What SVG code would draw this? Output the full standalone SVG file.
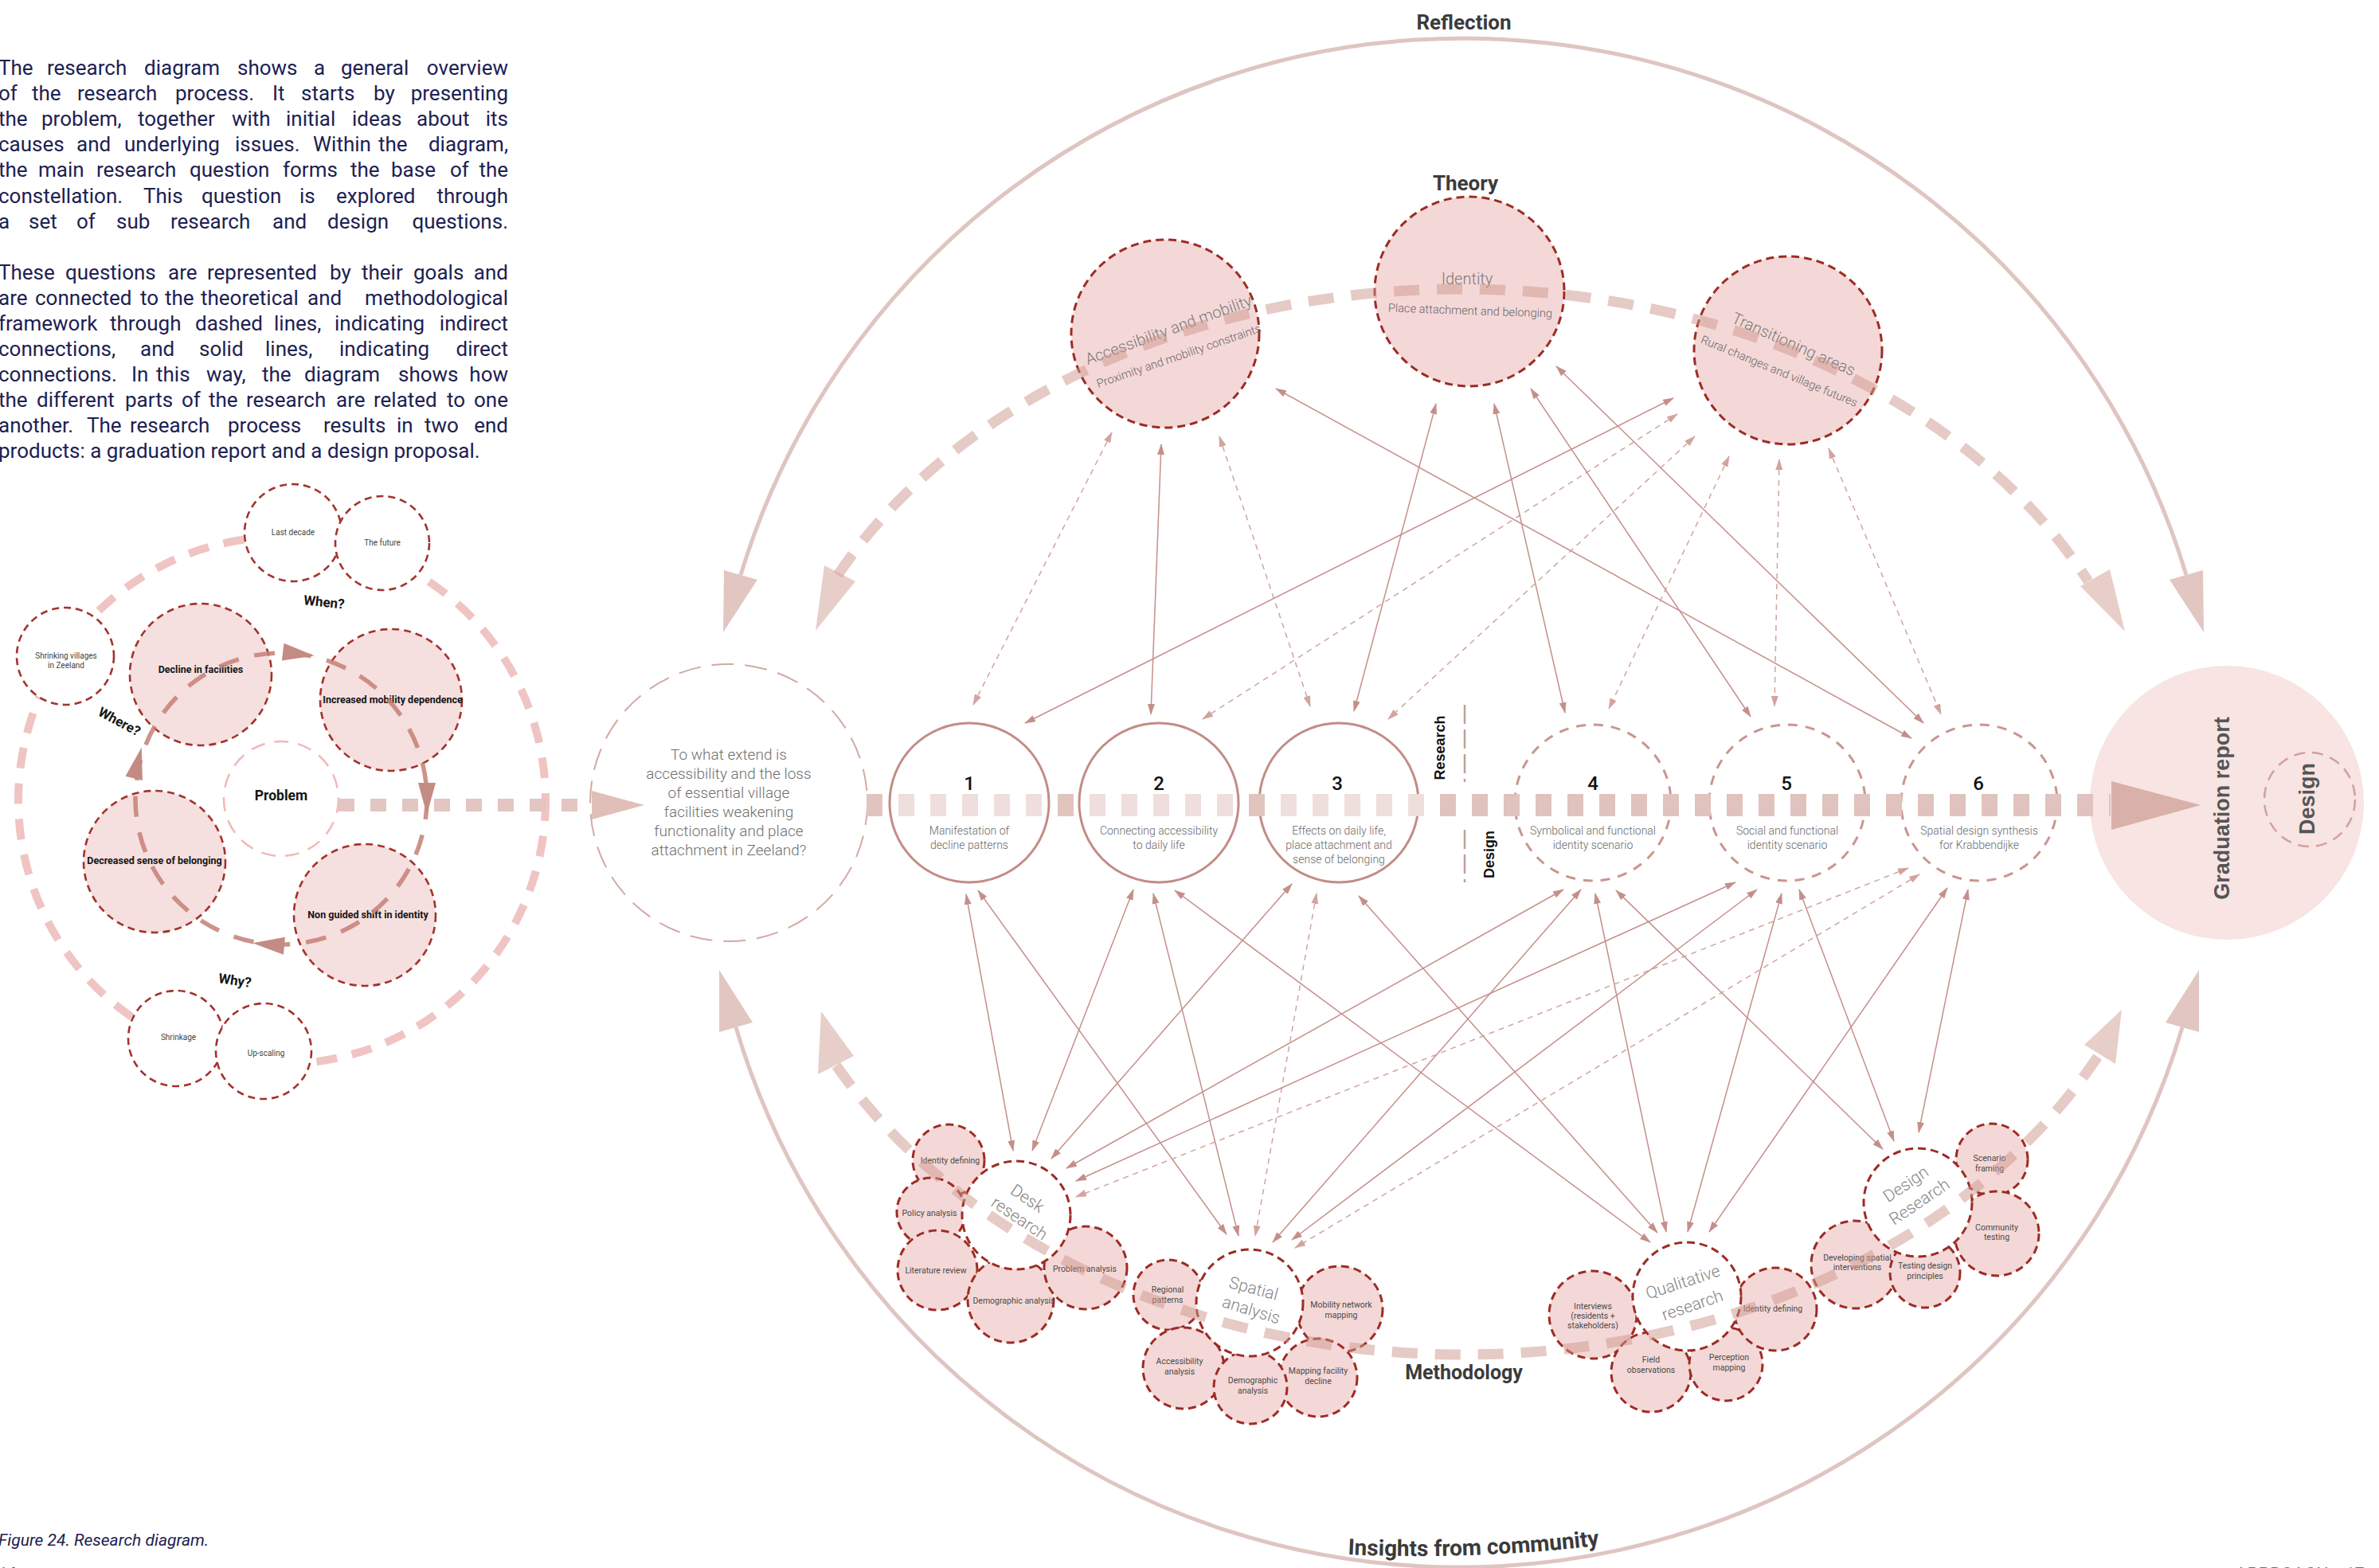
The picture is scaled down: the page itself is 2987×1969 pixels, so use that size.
<svg xmlns="http://www.w3.org/2000/svg" width="2987" height="1969" viewBox="0 0 2987 1969">
<defs>
<style>
.body{font-family:Roboto,"Liberation Sans",sans-serif;font-size:26px;fill:#1d2152}
.cap{font-family:Roboto,"Liberation Sans",sans-serif;font-size:21px;font-style:italic;fill:#1d2152}
.head{font-family:Roboto,"Liberation Sans",sans-serif;font-weight:700;fill:#3b3b3b;text-anchor:middle}
.pk{fill:#f4d8d7;stroke:#9d2c25;stroke-width:3;stroke-dasharray:10 6}
.wc{fill:#fff;stroke:#9d2c25;stroke-width:3;stroke-dasharray:10 6}
.lp{fill:#f6dfdf;stroke:#a3332c;stroke-width:2.6;stroke-dasharray:9 6}
.lw{fill:#fff;stroke:#a3332c;stroke-width:2.6;stroke-dasharray:9 6}
.lbl{font-family:Roboto,sans-serif;font-size:10.5px;fill:#4a4a4a;text-anchor:middle}
.slbl{font-family:Roboto,sans-serif;font-size:10px;fill:#444;text-anchor:middle}
.plbl{font-family:Roboto,sans-serif;font-weight:700;font-size:12.5px;fill:#151515;text-anchor:middle}
.why{font-family:Roboto,sans-serif;font-weight:700;font-size:17px;fill:#151515;text-anchor:middle}
.q{font-family:Roboto,sans-serif;font-weight:300;font-size:19px;fill:#6f6f6f;text-anchor:middle}
.sq{font-family:Roboto,sans-serif;font-weight:300;font-size:14px;fill:#6a6a6a;text-anchor:middle}
.num{font-family:Roboto,sans-serif;font-weight:500;font-size:24px;fill:#111;text-anchor:middle}
.tb{font-family:Roboto,sans-serif;font-weight:300;font-size:20px;fill:#7a7a7a;text-anchor:middle;dominant-baseline:central}
.ts{font-family:Roboto,sans-serif;font-weight:300;font-size:14.6px;fill:#666;text-anchor:middle;dominant-baseline:central}
.mb{font-family:Roboto,sans-serif;font-weight:300;font-size:21px;fill:#858585;text-anchor:middle;dominant-baseline:central}
.ax{font-family:"Liberation Sans",Arial,sans-serif;font-weight:700;fill:#111;text-anchor:middle;dominant-baseline:central}
.sn{fill:none;stroke:#c28c86;stroke-width:3}
.dn{fill:none;stroke:#c9968f;stroke-width:3;stroke-dasharray:12 10}
.sl{stroke:#c58f89;stroke-width:1.5;fill:none;marker-start:url(#ah);marker-end:url(#ah)}
.dl{stroke:#d1a49e;stroke-width:1.5;fill:none;stroke-dasharray:7 6;marker-start:url(#ahd);marker-end:url(#ahd)}
.big{fill:none;stroke:#dfc5c1;stroke-width:5}
.bigh{fill:#e2c6c2}
.thk{fill:none;stroke:rgba(205,150,140,0.5);stroke-width:13;stroke-dasharray:32 22}
.thkh{fill:rgba(212,165,156,0.55)}
</style>
<marker id="ah" viewBox="0 0 14 9" refX="13" refY="4.5" markerWidth="14" markerHeight="9" markerUnits="userSpaceOnUse" orient="auto-start-reverse"><path d="M0,0 L14,4.5 L0,9 z" fill="#c58f89"/></marker>
<marker id="ahd" viewBox="0 0 14 9" refX="13" refY="4.5" markerWidth="14" markerHeight="9" markerUnits="userSpaceOnUse" orient="auto-start-reverse"><path d="M0,0 L14,4.5 L0,9 z" fill="#d1a49e"/></marker>
<path id="insightsPath" d="M 1640 1949 Q 1850 1964 2060 1934"/>
</defs>

<rect width="2987" height="1969" fill="#fff"/>

<!-- introduction text -->
<g id="intro">
<text class="body" y="94"><tspan x="-2">The</tspan><tspan x="59">research</tspan><tspan x="181">diagram</tspan><tspan x="298">shows</tspan><tspan x="394">a</tspan><tspan x="428">general</tspan><tspan x="638" text-anchor="end">overview</tspan></text>
<text class="body" y="126"><tspan x="-2">of</tspan><tspan x="40">the</tspan><tspan x="97">research</tspan><tspan x="220">process.</tspan><tspan x="342">It</tspan><tspan x="378">starts</tspan><tspan x="469">by</tspan><tspan x="638" text-anchor="end">presenting</tspan></text>
<text class="body" y="158"><tspan x="-2">the</tspan><tspan x="52">problem,</tspan><tspan x="173">together</tspan><tspan x="291">with</tspan><tspan x="359">initial</tspan><tspan x="442">ideas</tspan><tspan x="523">about</tspan><tspan x="638" text-anchor="end">its</tspan></text>
<text class="body" y="190"><tspan x="-2">causes</tspan><tspan x="96">and</tspan><tspan x="156">underlying</tspan><tspan x="295">issues.</tspan><tspan x="393">Within</tspan><tspan x="475">the</tspan><tspan x="638" text-anchor="end">diagram,</tspan></text>
<text class="body" y="222"><tspan x="-2">the</tspan><tspan x="48">main</tspan><tspan x="121">research</tspan><tspan x="238">question</tspan><tspan x="355">forms</tspan><tspan x="440">the</tspan><tspan x="491">base</tspan><tspan x="565">of</tspan><tspan x="638" text-anchor="end">the</tspan></text>
<text class="body" y="255"><tspan x="-2">constellation.</tspan><tspan x="180">This</tspan><tspan x="253">question</tspan><tspan x="376">is</tspan><tspan x="422">explored</tspan><tspan x="638" text-anchor="end">through</tspan></text>
<text class="body" y="287"><tspan x="-2">a</tspan><tspan x="36">set</tspan><tspan x="96">of</tspan><tspan x="146">sub</tspan><tspan x="214">research</tspan><tspan x="342">and</tspan><tspan x="411">design</tspan><tspan x="638" text-anchor="end">questions.</tspan></text>
<text class="body" y="351"><tspan x="-2">These</tspan><tspan x="82">questions</tspan><tspan x="211">are</tspan><tspan x="260">represented</tspan><tspan x="414">by</tspan><tspan x="454">their</tspan><tspan x="519">goals</tspan><tspan x="638" text-anchor="end">and</tspan></text>
<text class="body" y="383"><tspan x="-2">are</tspan><tspan x="44">connected</tspan><tspan x="176">to</tspan><tspan x="207">the</tspan><tspan x="252">theoretical</tspan><tspan x="386">and</tspan><tspan x="638" text-anchor="end">methodological</tspan></text>
<text class="body" y="415"><tspan x="-2">framework</tspan><tspan x="138">through</tspan><tspan x="245">dashed</tspan><tspan x="344">lines,</tspan><tspan x="420">indicating</tspan><tspan x="638" text-anchor="end">indirect</tspan></text>
<text class="body" y="447"><tspan x="-2">connections,</tspan><tspan x="176">and</tspan><tspan x="250">solid</tspan><tspan x="333">lines,</tspan><tspan x="426">indicating</tspan><tspan x="638" text-anchor="end">direct</tspan></text>
<text class="body" y="479"><tspan x="-2">connections.</tspan><tspan x="165">In</tspan><tspan x="196">this</tspan><tspan x="259">way,</tspan><tspan x="329">the</tspan><tspan x="382">diagram</tspan><tspan x="500">shows</tspan><tspan x="638" text-anchor="end">how</tspan></text>
<text class="body" y="511"><tspan x="-2">the</tspan><tspan x="46">different</tspan><tspan x="157">parts</tspan><tspan x="228">of</tspan><tspan x="262">the</tspan><tspan x="309">research</tspan><tspan x="422">are</tspan><tspan x="469">related</tspan><tspan x="561">to</tspan><tspan x="638" text-anchor="end">one</tspan></text>
<text class="body" y="543"><tspan x="-2">another.</tspan><tspan x="109">The</tspan><tspan x="163">research</tspan><tspan x="286">process</tspan><tspan x="406">results</tspan><tspan x="498">in</tspan><tspan x="533">two</tspan><tspan x="638" text-anchor="end">end</tspan></text>
<text class="body" x="-2" y="575">products: a graduation report and a design proposal.</text>
</g>

<!-- page furniture -->
<g id="page">
<text class="cap" x="-2" y="1941">Figure 24. Research diagram.</text>
<text x="-2" y="1983" font-family="Roboto,sans-serif" font-size="21" fill="#3a3d66">16</text>
<text x="2807" y="1983" font-family="Roboto,sans-serif" font-size="21" fill="#6b6b78" letter-spacing="1">APPROACH</text>
<text x="2945" y="1983" font-family="Roboto,sans-serif" font-size="21" fill="#6b6b78">17</text>
</g>

<!-- problem field boundary -->
<g id="problem-field">
<circle cx="354" cy="1005" r="331" fill="none" stroke="#f0c4c3" stroke-width="10" stroke-dasharray="26 19"/>
</g>

<!-- problem cluster -->
<g id="problem"><circle cx="353" cy="1003" r="72" fill="#fff" stroke="#f1b9b8" stroke-width="2.5" stroke-dasharray="18 12"/><text class="why" x="353" y="1005" style="font-size:17.5px">Problem</text></g>
<g id="last-decade"><circle class="lw" cx="368" cy="669" r="61"/><text class="slbl" x="368" y="672">Last decade</text></g>
<g id="the-future"><circle class="lw" cx="480" cy="682" r="59"/><text class="slbl" x="480" y="685">The future</text></g>
<g id="shrinking-villages"><circle class="lw" cx="82" cy="824" r="61"/><text class="slbl" x="83" y="827">Shrinking villages</text><text class="slbl" x="83" y="839">in Zeeland</text></g>
<g id="shrinkage"><circle class="lw" cx="221" cy="1304" r="60"/><text class="slbl" x="224" y="1306">Shrinkage</text></g>
<g id="up-scaling"><circle class="lw" cx="331" cy="1320" r="60"/><text class="slbl" x="334" y="1326">Up-scaling</text></g>
<g id="decline-facilities"><circle class="lp" cx="252" cy="847" r="89"/><text class="plbl" x="252" y="845">Decline in facilities</text></g>
<g id="mobility-dependence"><circle class="lp" cx="491" cy="879" r="89"/><text class="plbl" x="493" y="883">Increased mobility dependence</text></g>
<g id="sense-belonging"><circle class="lp" cx="194" cy="1082" r="89"/><text class="plbl" x="194" y="1085">Decreased sense of belonging</text></g>
<g id="identity-shift"><circle class="lp" cx="458" cy="1149" r="89"/><text class="plbl" x="462" y="1153">Non guided shift in identity</text></g>
<g id="problem-questions">
<text class="why" x="407" y="762" transform="rotate(6 407 756)">When?</text>
<text class="why" x="150" y="912" transform="rotate(28 150 906)">Where?</text>
<text class="why" x="295" y="1237" transform="rotate(8 295 1231)">Why?</text>
</g>

<!-- main research question -->
<g id="main-question">
<circle cx="915" cy="1008" r="174" fill="#fff" stroke="#d3aaa4" stroke-width="2" stroke-dasharray="28 14"/>
<text class="q" x="915" y="954">To what extend is</text>
<text class="q" x="915" y="978">accessibility and the loss</text>
<text class="q" x="915" y="1002">of essential village</text>
<text class="q" x="915" y="1026">facilities weakening</text>
<text class="q" x="915" y="1050">functionality and place</text>
<text class="q" x="915" y="1074">attachment in Zeeland?</text>
</g>

<!-- sub questions -->
<g id="sq1"><circle class="sn" cx="1217" cy="1008" r="100"/><text class="num" x="1217" y="992">1</text><text class="sq" x="1217" y="1048">Manifestation of</text><text class="sq" x="1217" y="1066">decline patterns</text></g>
<g id="sq2"><circle class="sn" cx="1455" cy="1008" r="100"/><text class="num" x="1455" y="992">2</text><text class="sq" x="1455" y="1048">Connecting accessibility</text><text class="sq" x="1455" y="1066">to daily life</text></g>
<g id="sq3"><circle class="sn" cx="1681" cy="1008" r="100"/><text class="num" x="1679" y="992">3</text><text class="sq" x="1681" y="1048">Effects on daily life,</text><text class="sq" x="1681" y="1066">place attachment and</text><text class="sq" x="1681" y="1084">sense of belonging</text></g>
<g id="sq4"><circle class="dn" cx="2000" cy="1008" r="98"/><text class="num" x="2000" y="992">4</text><text class="sq" x="2000" y="1048">Symbolical and functional</text><text class="sq" x="2000" y="1066">identity scenario</text></g>
<g id="sq5"><circle class="dn" cx="2244" cy="1008" r="98"/><text class="num" x="2243" y="992">5</text><text class="sq" x="2244" y="1048">Social and functional</text><text class="sq" x="2244" y="1066">identity scenario</text></g>
<g id="sq6"><circle class="dn" cx="2485" cy="1008" r="98"/><text class="num" x="2484" y="992">6</text><text class="sq" x="2485" y="1048">Spatial design synthesis</text><text class="sq" x="2485" y="1066">for Krabbendijke</text></g>

<!-- research / design divider -->
<g id="divider">
<line x1="1839" y1="885" x2="1839" y2="982" stroke="#bfa09b" stroke-width="2.5" stroke-dasharray="24 7"/>
<line x1="1839" y1="1042" x2="1839" y2="1108" stroke="#bfa09b" stroke-width="2.5" stroke-dasharray="24 7"/>
<text class="ax" font-size="18" transform="translate(1808 939) rotate(-90)">Research</text>
<text class="ax" font-size="18" transform="translate(1870 1073) rotate(-90)">Design</text>
</g>

<!-- end products -->
<g id="graduation-report">
<circle cx="2796" cy="1008" r="172" fill="#f7e4e3"/>
<text class="ax" font-size="27" style="fill:#555" transform="translate(2790 1015) rotate(-90)">Graduation report</text>
</g>
<g id="design-product">
<ellipse cx="2900" cy="1004" rx="57" ry="59" fill="none" stroke="#d2a199" stroke-width="2.5" stroke-dasharray="14 9"/>
<text class="ax" font-size="27" style="fill:#555" transform="translate(2897 1003) rotate(-90)">Design</text>
</g>

<!-- theory -->
<g id="theory-accessibility">
<circle class="pk" cx="1463" cy="419" r="118"/>
<text class="tb" transform="translate(1467 414) rotate(-20)">Accessibility and mobility</text>
<text class="ts" transform="translate(1480 447) rotate(-19)">Proximity and mobility constraints</text>
</g>
<g id="theory-identity">
<circle class="pk" cx="1845" cy="366" r="119"/>
<text class="tb" x="1842" y="350">Identity</text>
<text class="ts" transform="translate(1846 390) rotate(2)">Place attachment and belonging</text>
</g>
<g id="theory-transitioning">
<circle class="pk" cx="2245" cy="440" r="118"/>
<text class="tb" transform="translate(2252 432) rotate(24)">Transitioning areas</text>
<text class="ts" transform="translate(2234 466) rotate(22.5)">Rural changes and village futures</text>
</g>

<!-- methodology: desk research -->
<g id="m-identity-defining"><circle class="pk" cx="1191" cy="1457" r="45"/><text class="lbl" x="1193" y="1461">Identity defining</text></g>
<g id="m-policy"><circle class="pk" cx="1169" cy="1522" r="43"/><text class="lbl" x="1167" y="1527">Policy analysis</text></g>
<g id="m-literature"><circle class="pk" cx="1177" cy="1595" r="50"/><text class="lbl" x="1175" y="1599">Literature review</text></g>
<g id="m-demographic"><circle class="pk" cx="1269" cy="1632" r="54"/><text class="lbl" x="1273" y="1637">Demographic analysis</text></g>
<g id="m-problem"><circle class="pk" cx="1363" cy="1592" r="52"/><text class="lbl" x="1362" y="1597">Problem analysis</text></g>
<g id="desk-research"><circle class="wc" cx="1276" cy="1526" r="68"/><text class="mb" transform="translate(1290 1505) rotate(34)">Desk</text><text class="mb" transform="translate(1280 1530) rotate(34)">research</text></g>

<!-- methodology: spatial analysis -->
<g id="m-regional"><circle class="pk" cx="1467" cy="1626" r="44"/><text class="lbl" x="1466" y="1623">Regional</text><text class="lbl" x="1466" y="1636">patterns</text></g>
<g id="m-mobility-network"><circle class="pk" cx="1682" cy="1644" r="54"/><text class="lbl" x="1684" y="1642">Mobility network</text><text class="lbl" x="1684" y="1655">mapping</text></g>
<g id="m-accessibility"><circle class="pk" cx="1486" cy="1718" r="51"/><text class="lbl" x="1481" y="1713">Accessibility</text><text class="lbl" x="1481" y="1726">analysis</text></g>
<g id="m-mapping-facility"><circle class="pk" cx="1655" cy="1730" r="49"/><text class="lbl" x="1655" y="1725">Mapping facility</text><text class="lbl" x="1655" y="1738">decline</text></g>
<g id="m-demographic-2"><circle class="pk" cx="1570" cy="1742" r="46"/><text class="lbl" x="1573" y="1737">Demographic</text><text class="lbl" x="1573" y="1750">analysis</text></g>
<g id="spatial-analysis"><circle class="wc" cx="1569" cy="1636" r="67"/><text class="mb" transform="translate(1574 1618) rotate(15)">Spatial</text><text class="mb" transform="translate(1571 1645) rotate(17)">analysis</text></g>

<!-- methodology: qualitative research -->
<g id="m-interviews"><circle class="pk" cx="2000" cy="1651" r="55"/><text class="lbl" x="2000" y="1644">Interviews</text><text class="lbl" x="2000" y="1656">(residents +</text><text class="lbl" x="2000" y="1668">stakeholders)</text></g>
<g id="m-field"><circle class="pk" cx="2073" cy="1723" r="50"/><text class="lbl" x="2073" y="1711">Field</text><text class="lbl" x="2073" y="1724">observations</text></g>
<g id="m-perception"><circle class="pk" cx="2167" cy="1713" r="46"/><text class="lbl" x="2171" y="1708">Perception</text><text class="lbl" x="2171" y="1721">mapping</text></g>
<g id="m-identity-defining-2"><circle class="pk" cx="2229" cy="1644" r="52"/><text class="lbl" x="2226" y="1647">Identity defining</text></g>
<g id="qualitative-research"><circle class="wc" cx="2118" cy="1628" r="68"/><text class="mb" transform="translate(2113 1610) rotate(-18)">Qualitative</text><text class="mb" transform="translate(2125 1639) rotate(-19)">research</text></g>

<!-- methodology: design research -->
<g id="m-scenario"><circle class="pk" cx="2501" cy="1456" r="45"/><text class="lbl" x="2498" y="1458">Scenario</text><text class="lbl" x="2498" y="1471">framing</text></g>
<g id="m-community"><circle class="pk" cx="2507" cy="1549" r="53"/><text class="lbl" x="2507" y="1545">Community</text><text class="lbl" x="2507" y="1557">testing</text></g>
<g id="m-developing"><circle class="pk" cx="2329" cy="1588" r="55"/><text class="lbl" x="2332" y="1583">Developing spatial</text><text class="lbl" x="2332" y="1595">interventions</text></g>
<g id="m-testing"><circle class="pk" cx="2417" cy="1598" r="44"/><text class="lbl" x="2417" y="1593">Testing design</text><text class="lbl" x="2417" y="1606">principles</text></g>
<g id="design-research"><circle class="wc" cx="2408" cy="1510" r="68"/><text class="mb" transform="translate(2393 1487) rotate(-34)">Design</text><text class="mb" transform="translate(2410 1509) rotate(-34)">Research</text></g>

<!-- framework labels -->
<g id="labels">
<text class="head" x="1838" y="37" font-size="26">Reflection</text>
<text class="head" x="1840" y="239" font-size="26">Theory</text>
<text class="head" x="1838" y="1732" font-size="25">Methodology</text>
<text class="head" font-size="28"><textPath href="#insightsPath" startOffset="50%">Insights from community</textPath></text>
</g>

<g id="connectors">
<!-- outer loop: reflection and community insight -->
<path class="big" d="M 930 722 A 948 948 0 0 1 2745 722"/>
<polygon class="bigh" points="909,716 951,728 908,794"/>
<polygon class="bigh" points="2724,728 2766,716 2767,794"/>
<path class="big" d="M 924 1290 A 947 947 0 0 0 2740 1290"/>
<polygon class="bigh" points="903,1296 945,1284 903,1218"/>
<polygon class="bigh" points="2719,1284 2761,1296 2761,1218"/>

<!-- theory and methodology arcs -->
<path class="thk" d="M 1052 722 A 872 643 0 0 1 2622 730"/>
<polygon class="thkh" points="1035,710 1074,730 1024,792"/>
<polygon class="thkh" points="2612,736 2649,715 2668,793"/>
<path class="thk" d="M 1050 1338 A 895 690 0 0 0 2637 1322"/>
<polygon class="thkh" points="1027,1349 1072,1326 1031,1270"/>
<polygon class="thkh" points="2617,1312 2656,1336 2664,1268"/>

<!-- problem cycle -->
<circle cx="353" cy="1003" r="183" fill="none" stroke="rgba(196,128,118,0.85)" stroke-width="5.5" stroke-dasharray="26 20"/>
<polygon fill="#c48b83" points="353.9,829.5 356.5,807.7 394.9,823.4"/>
<polygon fill="#c48b83" points="525,983 547,983 536,1023"/>
<polygon fill="#c48b83" points="357.9,1176.7 355.9,1198.7 317.1,1184.3"/>
<polygon fill="#c48b83" points="178.9,980.1 157.5,974.7 177.8,938.6"/>

<!-- problem to research question -->
<line x1="425" y1="1011" x2="740" y2="1011" stroke="#e3c5c1" stroke-width="16" stroke-dasharray="20 20"/>
<polygon fill="#dfbfb8" points="743,993 743,1029 809,1011"/>

<!-- research line through the sub questions -->
<line x1="1088" y1="1011" x2="1790" y2="1011" stroke="#efdfdc" stroke-width="28" stroke-dasharray="20 20"/>
<line x1="1790" y1="1011" x2="2650" y2="1011" stroke="#e0c3be" stroke-width="28" stroke-dasharray="20 20" stroke-dashoffset="-18"/>
<g fill="#e2c4bf"><rect x="1088" y="997" width="20" height="28"/><rect x="1328" y="997" width="20" height="28"/><rect x="1568" y="997" width="20" height="28"/></g>
<polygon fill="#d9b1a9" points="2651,981 2651,1042 2763,1011"/>

<!-- theory links -->
<line class="dl" x1="1396" y1="543" x2="1222" y2="885"/>
<line class="sl" x1="1458" y1="558" x2="1445" y2="897"/>
<line class="dl" x1="1531" y1="548" x2="1645" y2="887"/>
<line class="sl" x1="1602" y1="488" x2="2400" y2="927"/>
<line class="sl" x1="2101" y1="500" x2="1287" y2="908"/>
<line class="dl" x1="2106" y1="520" x2="1510" y2="903"/>
<line class="dl" x1="2128" y1="548" x2="1743" y2="903"/>
<line class="sl" x1="1803" y1="507" x2="1700" y2="893"/>
<line class="sl" x1="1876" y1="507" x2="1965" y2="895"/>
<line class="sl" x1="1922" y1="488" x2="2198" y2="900"/>
<line class="sl" x1="1954" y1="460" x2="2415" y2="908"/>
<line class="dl" x1="2171" y1="573" x2="2020" y2="890"/>
<line class="dl" x1="2234" y1="577" x2="2228" y2="887"/>
<line class="dl" x1="2296" y1="563" x2="2437" y2="897"/>

<!-- methodology links -->
<line class="sl" x1="1213" y1="1123" x2="1272" y2="1445"/>
<line class="sl" x1="1228" y1="1118" x2="1540" y2="1550"/>
<line class="sl" x1="1423" y1="1117" x2="1296" y2="1445"/>
<line class="sl" x1="1448" y1="1122" x2="1555" y2="1552"/>
<line class="sl" x1="1475" y1="1118" x2="2072" y2="1560"/>
<line class="sl" x1="1622" y1="1110" x2="1320" y2="1455"/>
<line class="dl" x1="1653" y1="1122" x2="1576" y2="1552"/>
<line class="sl" x1="1706" y1="1125" x2="2081" y2="1548"/>
<line class="sl" x1="1963" y1="1117" x2="1339" y2="1467"/>
<line class="sl" x1="1985" y1="1117" x2="1598" y2="1560"/>
<line class="sl" x1="2003" y1="1122" x2="2092" y2="1547"/>
<line class="sl" x1="2029" y1="1118" x2="2364" y2="1443"/>
<line class="sl" x1="2179" y1="1108" x2="1351" y2="1483"/>
<line class="sl" x1="2206" y1="1117" x2="1622" y2="1557"/>
<line class="sl" x1="2237" y1="1122" x2="2119" y2="1547"/>
<line class="sl" x1="2259" y1="1117" x2="2378" y2="1433"/>
<line class="dl" x1="2396" y1="1090" x2="1351" y2="1503"/>
<line class="dl" x1="2410" y1="1098" x2="1626" y2="1567"/>
<line class="sl" x1="2445" y1="1115" x2="2146" y2="1547"/>
<line class="sl" x1="2471" y1="1117" x2="2409" y2="1422"/>
</g>
</svg>
